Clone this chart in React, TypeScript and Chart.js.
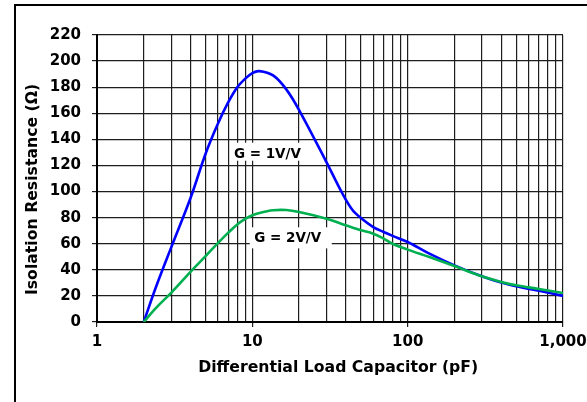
import React, { useEffect, useRef } from 'react';
import { Chart, registerables } from 'chart.js';

Chart.register(...registerables);

// ---- data ----
const capacitance = [2, 2.4, 3, 4, 5, 6, 7, 8, 9, 10, 11.1, 13.6, 16.5, 20, 30, 38, 44, 50, 60, 70, 80, 100, 138, 200, 300, 400, 500, 700, 1000];
const gain1Resistance = [0, 27, 57, 95, 129, 152, 168.5, 180, 186.5, 190.8, 192.3, 189, 178.5, 162.5, 122.6, 98.5, 86, 79.7, 72.8, 69, 66, 61.3, 52.4, 43.4, 35, 30.2, 27.4, 23.9, 20];
const gain2Resistance = [0, 10.8, 22.4, 38.5, 50.5, 60.5, 68.5, 74.8, 79, 81.8, 83.6, 85.6, 85.8, 84.3, 79.2, 75, 72.5, 70.3, 67.7, 63.9, 60, 55.5, 49.8, 42.9, 35, 30.7, 28.1, 25.3, 22.2];
const seriesLabels = ['G = 1V/V', 'G = 2V/V'];
const labelAnchorX = [12.5, 16.9];
const labelAnchorY = [129, 64.5];

const xGridValues = [1, 2, 3, 4, 5, 6, 7, 8, 9, 10, 20, 30, 40, 50, 60, 70, 80, 90, 100, 200, 300, 400, 500, 600, 700, 800, 900, 1000];
const xTickValues = [1, 10, 100, 1000];
const xTickLabels = ['1', '10', '100', '1,000'];
const yMin = 0;
const yMax = 220;
const yStep = 20;
const xTitle = 'Differential Load Capacitor (pF)';
const yTitle = 'Isolation Resistance (Ω)';

// ---- styles ----
const FONT = '"DejaVu Sans", sans-serif';
const GRID = '#1e1e1e';
const labelBoxes = [
  { padX: 0, halfH: 9, dy: -2, dx: 0 },
  { padX: 7.5, halfH: 10.5, dy: 0, dx: 3 },
];

const curveLabels = {
  id: 'curveLabels',
  beforeDatasetsDraw(chart: any) {
    const { ctx } = chart;
    const x = chart.scales.x;
    const y = chart.scales.y;
    ctx.save();
    ctx.font = `bold 13.5px ${FONT}`;
    seriesLabels.forEach((t, i) => {
      const b = labelBoxes[i];
      const px = x.getPixelForValue(labelAnchorX[i]);
      const py = y.getPixelForValue(labelAnchorY[i]);
      const w = ctx.measureText(t).width;
      ctx.fillStyle = '#ffffff';
      ctx.fillRect(px - w / 2 - b.padX + b.dx, py - b.halfH + b.dy, w + 2 * b.padX, 2 * b.halfH);
      ctx.fillStyle = '#000000';
      ctx.textAlign = 'center';
      ctx.textBaseline = 'middle';
      ctx.fillText(t, px, py + 1);
    });
    ctx.restore();
  },
};

export default function App() {
  const canvasRef = useRef<HTMLCanvasElement | null>(null);

  useEffect(() => {
    const canvas = canvasRef.current;
    if (!canvas) return;
    const chart = new Chart(canvas, {
      type: 'line',
      data: {
        datasets: [
          {
            label: seriesLabels[0],
            data: capacitance.map((c, i) => ({ x: c, y: gain1Resistance[i] })),
            borderColor: '#0000ff',
            borderWidth: 2.6,
            pointRadius: 0,
            tension: 0.35,
            fill: false,
            order: 1,
          },
          {
            label: seriesLabels[1],
            data: capacitance.map((c, i) => ({ x: c, y: gain2Resistance[i] })),
            borderColor: '#00b050',
            borderWidth: 2.6,
            pointRadius: 0,
            tension: 0.35,
            fill: false,
            order: 0,
          },
        ],
      },
      options: {
        responsive: false,
        animation: false,
        events: [],
        layout: { padding: { top: 35, right: 24, left: 0, bottom: 0 } },
        plugins: { legend: { display: false }, tooltip: { enabled: false } },
        scales: {
          x: {
            type: 'logarithmic',
            position: 'bottom',
            min: 1,
            max: 1000,
            afterFit: (s: any) => { s.height = 80; s.paddingLeft = 0; s.paddingRight = 0; },
            afterBuildTicks: (s: any) => { s.ticks = xGridValues.map((v) => ({ value: v })); },
            ticks: {
              autoSkip: false,
              maxRotation: 0,
              minRotation: 0,
              padding: 6,
              color: '#000',
              font: { family: FONT, size: 15, weight: 'bold' },
              callback: (v: any) => {
                const k = xTickValues.indexOf(Number(v));
                return k >= 0 ? xTickLabels[k] : '';
              },
            },
            grid: {
              color: GRID,
              lineWidth: 1.2,
              tickLength: 5,
              tickColor: (ctx: any) => (ctx.tick && xTickValues.indexOf(ctx.tick.value) >= 0 ? GRID : 'rgba(0,0,0,0)'),
            },
            border: { color: '#000', width: 2 },
            title: {
              display: true,
              text: '\u00a0\u00a0\u00a0' + xTitle,
              color: '#000',
              font: { family: FONT, size: 15.7, weight: 'bold' },
              padding: { top: 0, bottom: 24.5 },
            },
          },
          y: {
            min: yMin,
            max: yMax,
            afterFit: (s: any) => { s.width = 97; s.paddingTop = 0; s.paddingBottom = 0; },
            ticks: {
              stepSize: yStep,
              padding: 11,
              color: '#000',
              font: { family: FONT, size: 15, weight: 'bold' },
            },
            grid: { color: GRID, lineWidth: 1.2, tickLength: 5 },
            border: { color: '#000', width: 2 },
            title: {
              display: true,
              text: yTitle + '\u00a0\u00a0\u00a0\u00a0',
              color: '#000',
              font: { family: FONT, size: 15.7, weight: 'bold' },
              padding: { top: 23.5, bottom: 0 },
            },
          },
        },
      },
      plugins: [curveLabels],
    } as any);
    return () => chart.destroy();
  }, []);

  return (
    <div style={{ position: 'fixed', left: 0, top: 0, width: 587, height: 402, background: '#fff', overflow: 'hidden' }}>
      <canvas ref={canvasRef} width={587} height={402} style={{ display: 'block', position: 'absolute', left: 0, top: 0 }} />
      <div style={{ position: 'absolute', left: 14, top: 4, width: 600, height: 420, borderTop: '2px solid #000', borderLeft: '2px solid #000', pointerEvents: 'none' }} />
    </div>
  );
}
